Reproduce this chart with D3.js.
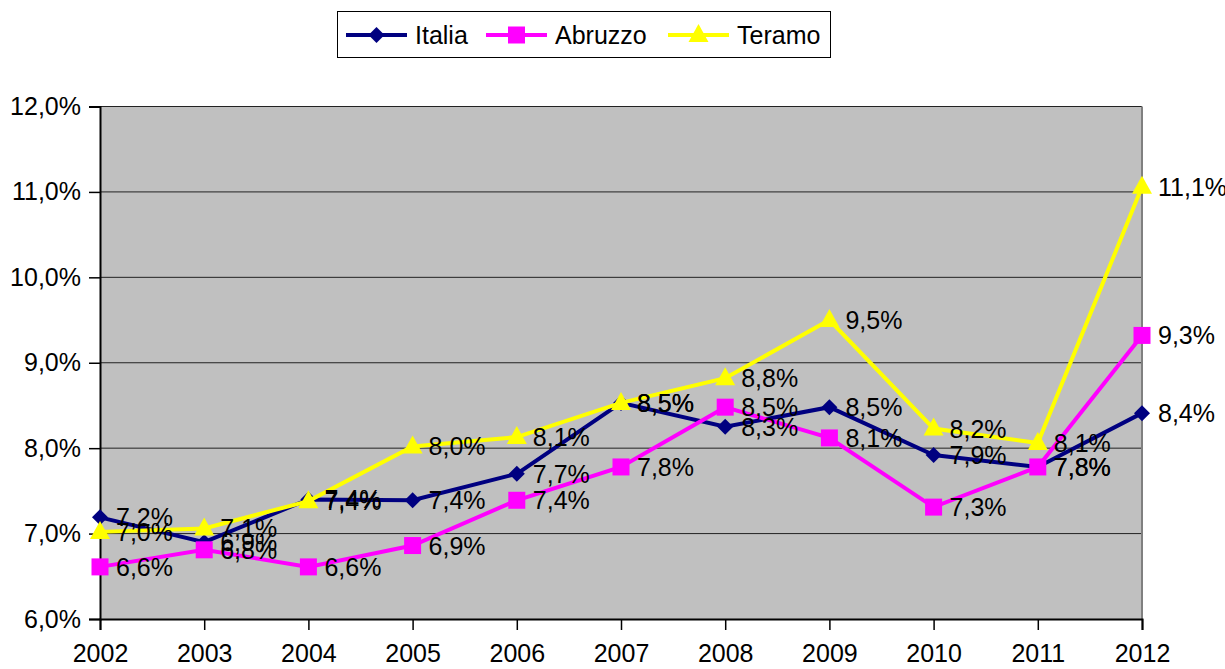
<!DOCTYPE html>
<html>
<head>
<meta charset="utf-8">
<script src="https://cdn.jsdelivr.net/npm/d3@7"></script>
<style>
  body { margin: 0; background: #fff; }
  text { font-family: "Liberation Sans", Arial, sans-serif; fill: #000; }
</style>
</head>
<body>
<div id="chart"></div>
<script>
// values (percent)
const years = ["2002", "2003", "2004", "2005", "2006", "2007", "2008", "2009", "2010", "2011", "2012"];
const italia = [7.19, 6.9, 7.4, 7.39, 7.7, 8.53, 8.25, 8.48, 7.92, 7.78, 8.41];
const abruzzo = [6.61, 6.81, 6.61, 6.86, 7.39, 7.78, 8.48, 8.12, 7.31, 7.78, 9.32];
const teramo = [7.02, 7.06, 7.38, 8.02, 8.13, 8.53, 8.82, 9.5, 8.23, 8.06, 11.06];
const yTicks = [6, 7, 8, 9, 10, 11, 12];

const series = [
  {name: "Italia", values: italia, color: "#000080", marker: "diamond"},
  {name: "Abruzzo", values: abruzzo, color: "#FF00FF", marker: "square"},
  {name: "Teramo", values: teramo, color: "#FFFF00", marker: "triangle"}
];

const width = 1225, height = 669;
const plot = {left: 100, right: 1142, top: 106.5, bottom: 619};

const svg = d3.select("#chart").append("svg")
  .attr("width", width)
  .attr("height", height);

const x = d3.scalePoint()
  .domain(years)
  .range([plot.left, plot.right]);

const y = d3.scaleLinear()
  .domain([6, 12])
  .range([plot.bottom, plot.top]);

const fmt = v => d3.format(".1f")(v).replace(".", ",") + "%";

// plot background
svg.append("rect")
  .attr("x", plot.left).attr("y", plot.top)
  .attr("width", plot.right - plot.left)
  .attr("height", plot.bottom - plot.top)
  .attr("fill", "#C0C0C0");

// gridlines
svg.append("g").selectAll("line")
  .data(yTicks.slice(1))
  .enter().append("line")
    .attr("x1", plot.left).attr("x2", plot.right)
    .attr("y1", d => y(d)).attr("y2", d => y(d))
    .attr("stroke", "#222")
    .attr("stroke-width", 1);

// right border
svg.append("line")
  .attr("x1", plot.right).attr("x2", plot.right)
  .attr("y1", plot.top).attr("y2", plot.bottom)
  .attr("stroke", "#808080").attr("stroke-width", 2);

// axes
const axeY = d3.axisLeft(y)
  .tickValues(yTicks)
  .tickSize(11)
  .tickPadding(8)
  .tickFormat(d => d3.format(".1f")(d).replace(".", ",") + "%");

const gy = svg.append("g")
  .attr("transform", `translate(${plot.left},0)`)
  .call(axeY);
gy.select(".domain").attr("stroke", "#000").attr("stroke-width", 2);
gy.selectAll(".tick line").attr("stroke", "#000").attr("stroke-width", 1.5);
gy.selectAll(".tick text").style("font-size", "25px").attr("font-family", null);

const axeX = d3.axisBottom(x)
  .tickSize(11)
  .tickPadding(14);

const gx = svg.append("g")
  .attr("transform", `translate(0,${plot.bottom})`)
  .call(axeX);
gx.select(".domain").attr("stroke", "#000").attr("stroke-width", 2);
gx.selectAll(".tick line").attr("stroke", "#000").attr("stroke-width", 1.5);
gx.selectAll(".tick text").style("font-size", "25px").attr("font-family", null);

// marker shapes
function markerPath(type) {
  if (type === "diamond") return "M0,-8L8,0L0,8L-8,0Z";
  if (type === "square") return "M-8.5,-8.5H8.5V8.5H-8.5Z";
  return "M0,-11L10,7H-10Z";
}

const line = d3.line()
  .x((d, i) => x(years[i]))
  .y(d => y(d));

series.forEach(s => {
  const g = svg.append("g");
  g.append("path")
    .datum(s.values)
    .attr("d", line)
    .attr("fill", "none")
    .attr("stroke", s.color)
    .attr("stroke-width", 4)
    .attr("stroke-linejoin", "miter");

  g.selectAll("path.mark")
    .data(s.values)
    .enter().append("path")
      .attr("class", "mark")
      .attr("d", markerPath(s.marker))
      .attr("transform", (d, i) => `translate(${x(years[i])},${y(d)})`)
      .attr("fill", s.color);
});

// data labels drawn after all lines
series.forEach(s => {
  svg.append("g").selectAll("text")
    .data(s.values)
    .enter().append("text")
      .attr("x", (d, i) => x(years[i]) + 16)
      .attr("y", (d, i) => y(d))
      .attr("dy", "0.36em")
      .style("font-size", "25px")
      .text(d => fmt(d));
});

// legend
const legend = svg.append("g");
legend.append("rect")
  .attr("x", 337.5).attr("y", 11.5)
  .attr("width", 493).attr("height", 46)
  .attr("fill", "#fff")
  .attr("stroke", "#000")
  .attr("stroke-width", 1);

const legendX = [346, 486, 668];
series.forEach((s, i) => {
  const lg = legend.append("g").attr("transform", `translate(${legendX[i]},35)`);
  lg.append("line")
    .attr("x1", 0).attr("x2", 61)
    .attr("stroke", s.color).attr("stroke-width", 4);
  lg.append("path")
    .attr("d", markerPath(s.marker))
    .attr("transform", "translate(30.5,0)")
    .attr("fill", s.color);
  lg.append("text")
    .attr("x", 69)
    .attr("dy", "0.36em")
    .style("font-size", "25px")
    .text(s.name);
});
</script>
</body>
</html>
